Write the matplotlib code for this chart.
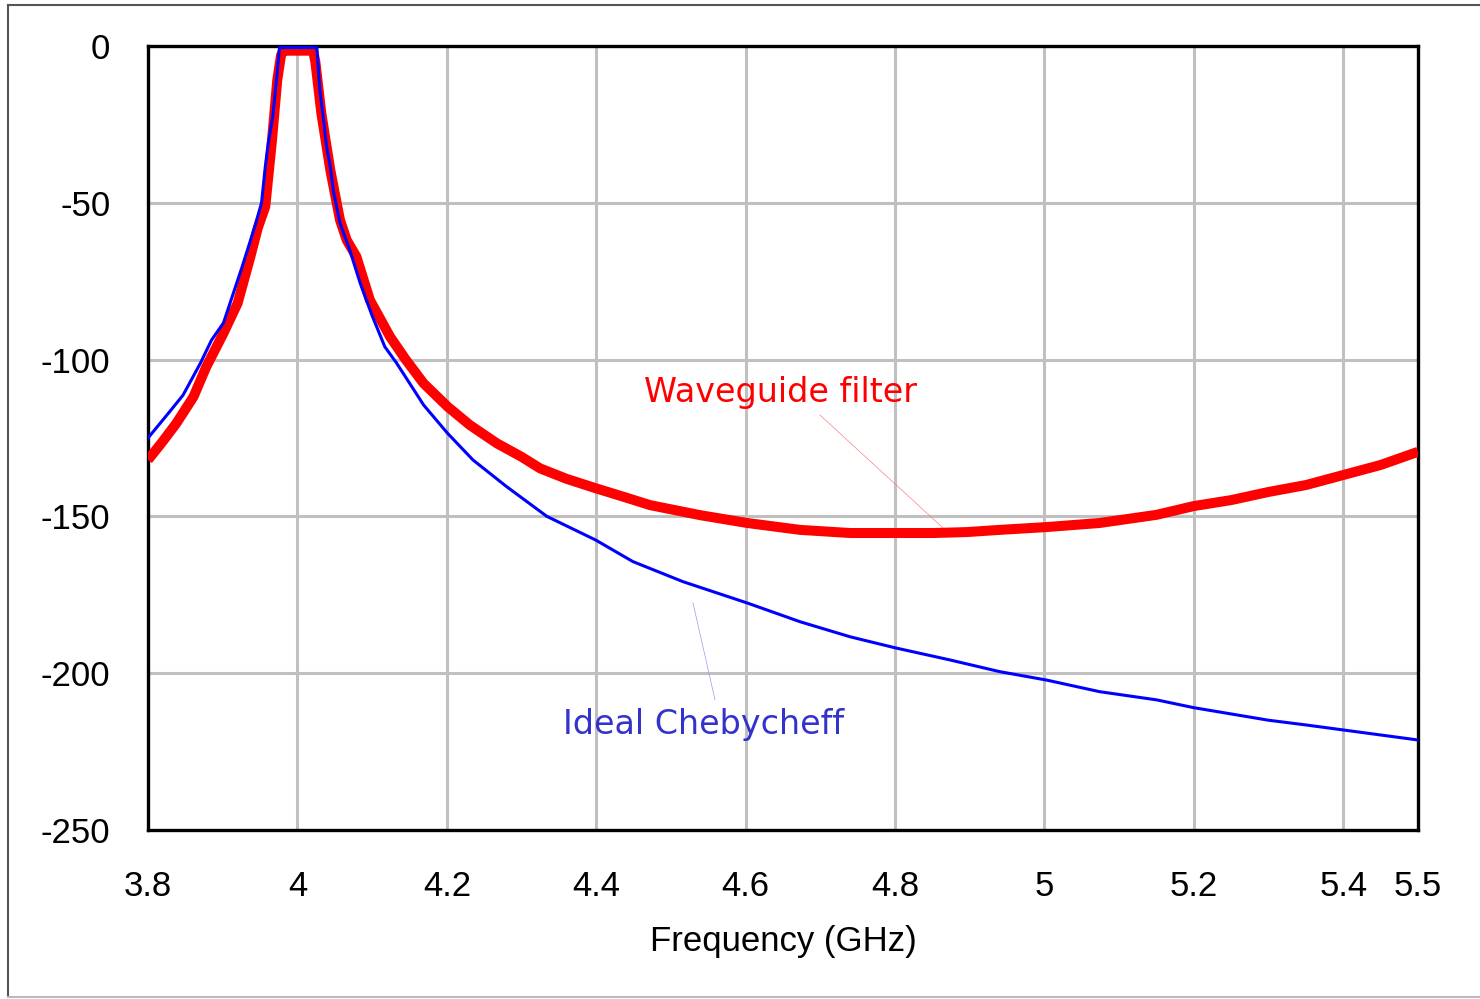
import matplotlib
matplotlib.use("Agg")
import matplotlib.pyplot as plt
from matplotlib.lines import Line2D

# ---- data ----
wg_freq = [3.800, 3.820, 3.838, 3.861, 3.878, 3.901, 3.920, 3.937, 3.947, 3.957,
           3.966, 3.973, 3.978, 3.981, 4.021, 4.024, 4.032, 4.044, 4.057, 4.066,
           4.079, 4.097, 4.124, 4.145, 4.169, 4.201, 4.231, 4.267, 4.300, 4.325,
           4.360, 4.399, 4.440, 4.472, 4.539, 4.602, 4.673, 4.740, 4.851, 4.896,
           4.940, 5.003, 5.074, 5.150, 5.200, 5.250, 5.300, 5.350, 5.400, 5.450,
           5.500]
wg_db = [-132.0, -126.0, -120.3, -111.8, -102.3, -91.6, -82.0, -67.2, -58.0, -51.2,
         -30.0, -10.9, -3.0, -1.5, -1.5, -5.0, -21.4, -39.5, -55.5, -61.9,
         -67.2, -81.0, -92.7, -100.0, -107.6, -115.0, -120.9, -126.7, -131.0, -134.7,
         -138.0, -141.0, -144.0, -146.4, -149.6, -152.1, -154.3, -155.3, -155.3, -155.0,
         -154.3, -153.4, -152.1, -149.5, -146.7, -144.8, -142.2, -140.0, -136.8, -133.6,
         -129.4]

cheb_freq = [3.800, 3.829, 3.847, 3.870, 3.885, 3.901, 3.926, 3.943, 3.952, 3.957,
             3.961, 3.967, 3.972, 3.976, 4.026, 4.030, 4.035, 4.039, 4.044, 4.048,
             4.057, 4.070, 4.084, 4.100, 4.117, 4.133, 4.169, 4.201, 4.235, 4.280,
             4.334, 4.399, 4.449, 4.516, 4.602, 4.673, 4.740, 4.800, 4.874, 4.940,
             5.003, 5.074, 5.150, 5.200, 5.300, 5.350, 5.400, 5.450, 5.500]
cheb_db = [-125.0, -116.6, -111.3, -101.2, -93.8, -88.3, -70.4, -57.6, -50.0, -38.5,
           -31.0, -22.5, -10.9, -0.5, -0.5, -14.0, -23.6, -32.0, -38.5, -46.0,
           -56.5, -65.0, -75.6, -86.0, -95.9, -101.2, -114.5, -123.5, -132.0, -140.5,
           -150.0, -157.5, -164.4, -170.8, -177.6, -183.6, -188.4, -191.9, -195.8, -199.5,
           -202.2, -205.9, -208.5, -211.0, -215.0, -216.5, -218.1, -219.7, -221.3]

x_ticks = [3.8, 4.0, 4.2, 4.4, 4.6, 4.8, 5.0, 5.2, 5.4, 5.5]
x_tick_labels = ["3.8", "4", "4.2", "4.4", "4.6", "4.8", "5", "5.2", "5.4", "5.5"]
x_grid = [4.0, 4.2, 4.4, 4.6, 4.8, 5.0, 5.2, 5.4]
y_ticks = [0, -50, -100, -150, -200, -250]
y_tick_labels = ["0", "-50", "-100", "-150", "-200", "-250"]

# ---- figure ----
fig = plt.figure(figsize=(14.8, 9.99), dpi=100)
ax = fig.add_axes([148 / 1480, 1 - 830 / 999, 1270 / 1480, 784 / 999])

ax.set_xlim(3.8, 5.5)
ax.set_ylim(-250, 0)

# grid
for xv in x_grid:
    ax.axvline(xv, color="#c0c0c0", lw=2.2, zorder=0)
for yv in y_ticks[1:-1]:
    ax.axhline(yv, color="#c0c0c0", lw=2.2, zorder=0)

ax.plot(wg_freq, wg_db, color="#ff0000", lw=7.2, solid_joinstyle="round",
        solid_capstyle="butt", zorder=3)
ax.plot(cheb_freq, cheb_db, color="#0000ff", lw=2.2, zorder=4)

ax.set_xticks(x_ticks)
ax.set_xticklabels(x_tick_labels)
ax.set_yticks(y_ticks)
ax.set_yticklabels(y_tick_labels)
ax.tick_params(axis="both", length=0, labelsize=25)
ax.tick_params(axis="x", pad=29)
ax.tick_params(axis="y", pad=27)
for lab in ax.get_xticklabels() + ax.get_yticklabels():
    lab.set_fontfamily("Liberation Sans")

ax.set_xlabel("Frequency (GHz)", fontsize=25, family="Liberation Sans", labelpad=16)

for sp in ax.spines.values():
    sp.set_color("black")
    sp.set_linewidth(2.4)

# annotations
ax.plot([4.6995, 4.867], [-117.7, -154.3], color="#ff8080", lw=0.5, zorder=2)
ax.text(4.646, -110.6, "Waveguide filter", color="#ff0000", fontsize=24,
        family="DejaVu Sans", ha="center", va="center", zorder=5)
ax.plot([4.5295, 4.559], [-177.6, -208.5], color="#9999ee", lw=0.5, zorder=2)
ax.text(4.544, -216.2, "Ideal Chebycheff", color="#3333cc", fontsize=24,
        family="DejaVu Sans", ha="center", va="center", zorder=5)

# outer frame
W, H = 1480, 999
fig.add_artist(Line2D([8 / W, 1.0], [1 - 5 / H, 1 - 5 / H], color="#555555", lw=1.5,
                      transform=fig.transFigure))
fig.add_artist(Line2D([8 / W, 8 / W], [1 - 5 / H, 1 - 997 / H], color="#555555", lw=1.5,
                      transform=fig.transFigure))
fig.add_artist(Line2D([8 / W, 1.0], [1 - 997 / H, 1 - 997 / H], color="#bbbbbb", lw=1.5,
                      transform=fig.transFigure))

fig.savefig("out.png", dpi=100, facecolor="white")
